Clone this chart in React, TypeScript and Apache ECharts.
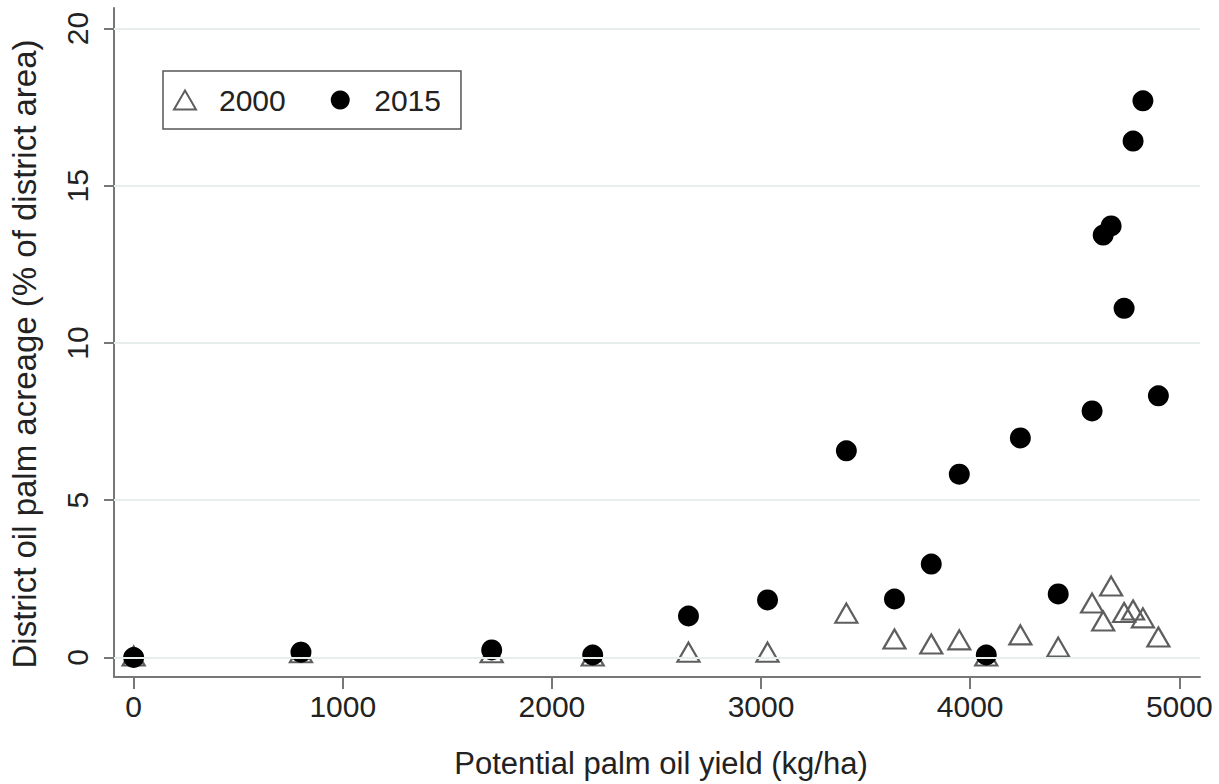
import React, { useEffect, useRef } from "react";
import * as echarts from "echarts";

// Potential palm oil yield (kg/ha) per district
const yieldKgHa = [0, 800, 1712, 2195, 2653, 3031, 3408, 3638, 3814, 3948, 4077, 4240, 4421, 4583, 4636, 4674, 4736, 4779, 4826, 4900];
// District oil palm acreage (% of district area)
const acreage2000 = [0.05, 0.15, 0.15, 0.05, 0.17, 0.17, 1.41, 0.59, 0.43, 0.56, 0.05, 0.72, 0.33, 1.73, 1.16, 2.27, 1.43, 1.51, 1.26, 0.65];
const acreage2015 = [0.0, 0.17, 0.24, 0.08, 1.32, 1.83, 6.57, 1.86, 2.97, 5.83, 0.08, 6.98, 2.02, 7.84, 13.43, 13.72, 11.1, 16.42, 17.7, 8.32];

const xTicks = [0, 1000, 2000, 3000, 4000, 5000];
const yTicks = [0, 5, 10, 15, 20];
const seriesNames = ["2000", "2015"];

const FONT = "'Liberation Sans', Arial, Helvetica, sans-serif";
const TEXT = "#222";
const AXIS = "#777";

export default function App() {
  const ref = useRef<HTMLDivElement>(null);
  useEffect(() => {
    if (!ref.current) return;
    const chart = echarts.init(ref.current, undefined, { renderer: "svg" });
    const d2000 = yieldKgHa.map((x, i) => [x, acreage2000[i]]);
    const d2015 = yieldKgHa.map((x, i) => [x, acreage2015[i]]);
    chart.setOption({
      animation: false,
      backgroundColor: "#fff",
      textStyle: { fontFamily: FONT },
      grid: { left: 113, right: 19, top: 8, bottom: 107, containLabel: false },
      legend: {
        data: seriesNames,
        left: 163,
        top: 71,
        orient: "horizontal",
        padding: [14, 20, 14, 10],
        itemGap: 45,
        itemWidth: 22,
        itemHeight: 19,
        borderColor: "#555",
        borderWidth: 1.5,
        textStyle: { fontSize: 30, color: TEXT, fontFamily: FONT, padding: [0, 0, 0, 18] },
      },
      xAxis: {
        type: "value",
        min: -94,
        max: 5099,
        name: "Potential palm oil yield (kg/ha)",
        nameLocation: "middle",
        nameGap: 71,
        nameTextStyle: { fontSize: 31, color: TEXT, fontFamily: FONT, padding: [0, 0, 0, 8] },
        axisLine: { show: true, onZero: false, lineStyle: { color: AXIS, width: 2 } },
        axisTick: { show: true, length: 12, customValues: xTicks, lineStyle: { color: AXIS, width: 2 } },
        axisLabel: {
          customValues: xTicks,
          margin: 14,
          fontSize: 30,
          color: TEXT,
          fontFamily: FONT,
          formatter: (v: number) => String(v),
        },
        splitLine: { show: false },
      },
      yAxis: {
        type: "value",
        min: -0.62,
        max: 20.65,
        name: "District oil palm acreage (% of district area)",
        nameLocation: "middle",
        nameGap: 73,
        nameRotate: 90,
        nameTextStyle: { fontSize: 33, color: TEXT, fontFamily: FONT, padding: [0, 23, 0, 0] },
        axisLine: { show: true, onZero: false, lineStyle: { color: AXIS, width: 2 } },
        axisTick: { show: true, length: 10, customValues: yTicks, lineStyle: { color: AXIS, width: 2 } },
        axisLabel: {
          customValues: yTicks,
          rotate: 90,
          margin: 22,
          fontSize: 30,
          color: TEXT,
          fontFamily: FONT,
          formatter: (v: number) => String(v),
        },
        splitLine: { show: false },
      },
      series: [
        {
          name: "grid",
          type: "scatter",
          data: [],
          silent: true,
          z: 0,
          markLine: {
            silent: true,
            symbol: ["none", "none"],
            label: { show: false },
            lineStyle: { color: "#e8eded", width: 2, type: "solid" },
            data: yTicks.map((v) => ({ yAxis: v })),
          },
        },
        {
          name: seriesNames[0],
          type: "scatter",
          symbol: "triangle",
          symbolSize: [22, 19],
          z: 3,
          itemStyle: { color: "rgba(255,255,255,0)", borderColor: "#5e5e5e", borderWidth: 2.2, opacity: 1 },
          data: d2000,
        },
        {
          name: seriesNames[1],
          type: "scatter",
          symbol: "circle",
          symbolSize: 21,
          z: 4,
          itemStyle: { color: "#000", opacity: 1 },
          data: d2015,
        },
      ],
    });
    return () => chart.dispose();
  }, []);
  return (
    <div
      ref={ref}
      style={{ position: "fixed", left: 0, top: 0, width: 1219, height: 784, background: "#fff" }}
    />
  );
}
